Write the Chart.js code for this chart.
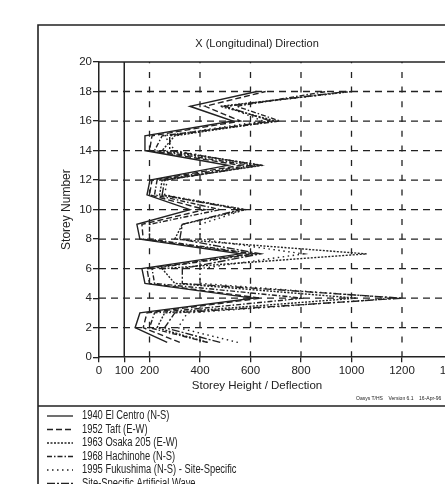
<!DOCTYPE html>
<html>
<head>
<meta charset="utf-8">
<script src="https://cdn.jsdelivr.net/npm/chart.js@4.4.0/dist/chart.umd.min.js"></script>
<style>
html, body { margin: 0; padding: 0; background: #fff; overflow: hidden; }
#wrap { width: 445px; height: 484px; overflow: hidden; }
canvas { display: block; }
</style>
</head>
<body>
<div id="wrap"><canvas id="drift" width="470" height="484"></canvas></div>
<script>
// storey numbers and x tick values
const storeys = [1, 2, 3, 4, 5, 6, 7, 8, 9, 10, 11, 12, 13, 14, 15, 16, 17, 18];
const xTicks = [0, 100, 200, 400, 600, 800, 1000, 1200, 1400];

// storey height / deflection, storey 1..18
const elCentro   = [270, 143, 162, 610, 182, 170, 560, 162, 150, 360, 190, 202, 510, 182, 182, 530, 360, 625];
const taft       = [320, 175, 190, 640, 200, 190, 600, 175, 170, 420, 200, 210, 560, 200, 210, 560, 420, 660];
const osaka      = [430, 230, 260, 1020, 300, 250, 1060, 300, 330, 580, 240, 250, 650, 250, 300, 700, 480, 1000];
const hachinohe  = [430, 200, 220, 810, 220, 210, 620, 200, 200, 480, 220, 230, 600, 220, 250, 717, 545, 900];
const fukushima  = [550, 313, 350, 1180, 400, 400, 810, 400, 400, 580, 260, 270, 620, 300, 260, 650, 500, 1000];
const artificial = [480, 260, 300, 1200, 330, 330, 640, 320, 330, 560, 250, 260, 640, 280, 280, 680, 500, 980];

const names = [
    '1940 El Centro (N-S)',
    '1952 Taft (E-W)',
    '1963 Osaka 205 (E-W)',
    '1968 Hachinohe (N-S)',
    '1995 Fukushima (N-S) - Site-Specific',
    'Site-Specific Artificial Wave'
];
const dashes = [[], [6, 3], [2, 1.5], [5, 2, 1.5, 2], [1.5, 3.5], [8, 2, 2, 2]];
const series = [elCentro, taft, osaka, hachinohe, fukushima, artificial];

const ink = '#222';
const face = '"Liberation Sans", Arial, sans-serif';

const sheet = {
    id: 'sheet',
    beforeDatasetsDraw(chart) {
        const {ctx, chartArea: a, scales: {x, y}} = chart;
        ctx.save();
        ctx.strokeStyle = ink;
        ctx.lineWidth = 1.3;
        ctx.setLineDash([7, 5]);
        for (let s = 2; s < 20; s += 2) {
            const py = y.getPixelForValue(s);
            ctx.beginPath(); ctx.moveTo(a.left, py); ctx.lineTo(a.right, py); ctx.stroke();
        }
        ctx.setLineDash([6, 8.7]);
        for (let v = 200; v <= 1400; v += 200) {
            const px = x.getPixelForValue(v);
            ctx.beginPath(); ctx.moveTo(px, a.bottom); ctx.lineTo(px, a.top); ctx.stroke();
        }
        ctx.setLineDash([]);
        ctx.lineWidth = 1.5;
        ctx.beginPath(); ctx.moveTo(a.left, a.top); ctx.lineTo(a.right, a.top); ctx.stroke();
        const p100 = x.getPixelForValue(100);
        ctx.beginPath(); ctx.moveTo(p100, a.top); ctx.lineTo(p100, a.bottom); ctx.stroke();
        ctx.restore();
    },
    afterDraw(chart) {
        const {ctx, width} = chart;
        ctx.save();
        ctx.strokeStyle = ink;
        ctx.lineWidth = 1.6;
        ctx.beginPath();
        ctx.moveTo(38, 484); ctx.lineTo(38, 25); ctx.lineTo(width, 25);
        ctx.moveTo(38, 406); ctx.lineTo(width, 406);
        ctx.stroke();

        ctx.fillStyle = ink;
        ctx.font = '5px ' + face;
        ctx.textBaseline = 'middle';
        ctx.fillText('Oasys T/HS    Version 6.1    16-Apr-96', 356, 399);

        ctx.font = '12px ' + face;
        chart.data.datasets.forEach((ds, i) => {
            const cy = 416 + i * 13.5;
            ctx.lineWidth = 1.3;
            ctx.setLineDash(ds.borderDash);
            ctx.beginPath(); ctx.moveTo(47, cy); ctx.lineTo(73, cy); ctx.stroke();
            ctx.setLineDash([]);
            // narrow face like the original plotter lettering
            ctx.save();
            ctx.translate(82, cy);
            ctx.scale(0.78, 1);
            ctx.fillText(ds.label, 0, 0);
            ctx.restore();
        });
        ctx.restore();
    }
};

new Chart(document.getElementById('drift'), {
    type: 'line',
    data: {
        datasets: series.map((vals, i) => ({
            label: names[i],
            data: storeys.map((s, j) => ({x: vals[j], y: s})),
            borderColor: ink,
            borderWidth: 1.4,
            borderDash: dashes[i],
            pointRadius: 0,
            tension: 0,
            fill: false
        }))
    },
    options: {
        responsive: false,
        animation: false,
        layout: {padding: {left: 61.5, right: 17.5, top: 0, bottom: 91}},
        plugins: {
            legend: {display: false},
            tooltip: {enabled: false},
            title: {
                display: true,
                text: 'X (Longitudinal) Direction',
                color: ink,
                font: {family: face, size: 11, weight: 'normal'},
                padding: {top: 37.4, bottom: 11.4}
            },
            subtitle: {
                display: true,
                position: 'bottom',
                text: 'Storey Height / Deflection',
                color: ink,
                font: {family: face, size: 11.5, weight: 'normal'},
                padding: {top: 1, bottom: 0}
            }
        },
        scales: {
            x: {
                type: 'linear',
                min: 0,
                max: 1400,
                afterBuildTicks: s => { s.ticks = xTicks.map(v => ({value: v})); },
                afterFit: s => { s.height = 21; s.paddingLeft = 0; s.paddingRight = 0; },
                ticks: {color: ink, font: {family: face, size: 11.5}, padding: 2, autoSkip: false, maxRotation: 0,
                        callback: v => String(v)},
                grid: {drawOnChartArea: false, tickLength: 5, color: ink, lineWidth: 1.3},
                border: {color: ink, width: 1.5}
            },
            y: {
                min: 0,
                max: 20,
                afterFit: s => { s.width = 37.5; s.paddingTop = 0; s.paddingBottom = 0; },
                ticks: {stepSize: 2, color: ink, font: {family: face, size: 11.5}, padding: 1},
                grid: {drawOnChartArea: false, tickLength: 6, color: ink, lineWidth: 1.3},
                border: {color: ink, width: 1.5},
                title: {
                    display: true,
                    text: 'Storey Number',
                    color: ink,
                    font: {family: face, size: 12},
                    padding: {top: -2, bottom: 0}
                }
            }
        }
    },
    plugins: [sheet]
});
</script>
</body>
</html>
